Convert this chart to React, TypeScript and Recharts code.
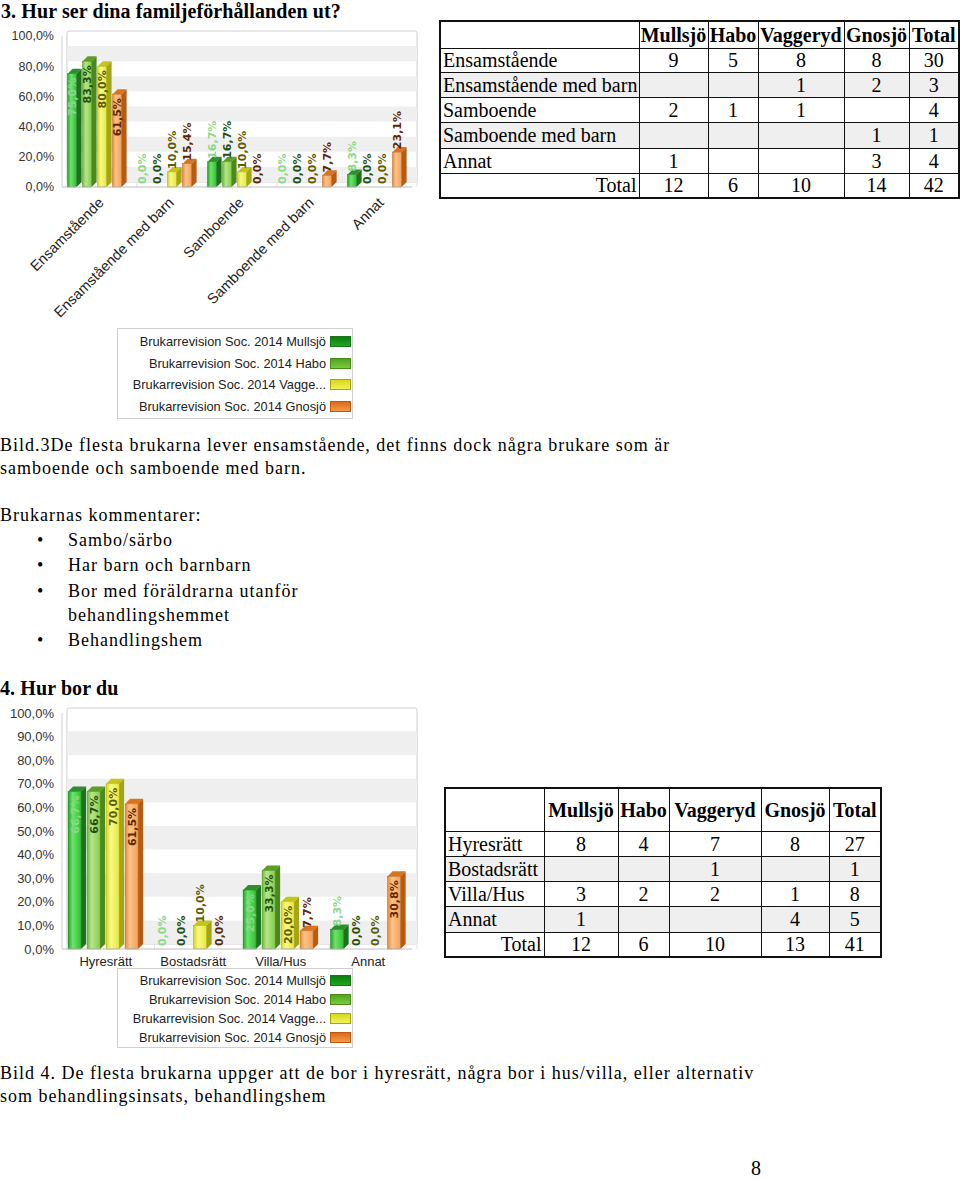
import React from 'react';
import {
  BarChart,
  Bar,
  XAxis,
  YAxis,
  CartesianGrid,
  ReferenceArea,
  LabelList,
  Legend,
} from 'recharts';

const KOMMUNER = ['Mullsjö', 'Habo', 'Vaggeryd', 'Gnosjö'];
const SERIES_NAMES = [
  'Brukarrevision Soc. 2014 Mullsjö',
  'Brukarrevision Soc. 2014 Habo',
  'Brukarrevision Soc. 2014 Vagge...',
  'Brukarrevision Soc. 2014 Gnosjö',
];

// 3. familjeförhållanden, % per kommun
const FAMILY_CATEGORIES = ['Ensamstående', 'Ensamstående med barn', 'Samboende', 'Samboende med barn', 'Annat'];
const FAMILY_MULLSJO = [75.0, 0, 16.7, 0, 8.3];
const FAMILY_HABO = [83.3, 0, 16.7, 0, 0];
const FAMILY_VAGGERYD = [80.0, 10.0, 10.0, 0, 0];
const FAMILY_GNOSJO = [61.5, 15.4, 0, 7.7, 23.1];
const FAMILY_TICKS = [0, 20, 40, 60, 80, 100];

// 3. antal svar
const FAMILY_COUNT_MULLSJO = [9, null, 2, null, 1];
const FAMILY_COUNT_HABO = [5, null, 1, null, null];
const FAMILY_COUNT_VAGGERYD = [8, 1, 1, null, null];
const FAMILY_COUNT_GNOSJO = [8, 2, null, 1, 3];
const FAMILY_COUNT_TOTAL = [30, 3, 4, 1, 4];
const FAMILY_COLUMN_TOTALS = [12, 6, 10, 14, 42];

// 4. boende, % per kommun
const HOUSING_CATEGORIES = ['Hyresrätt', 'Bostadsrätt', 'Villa/Hus', 'Annat'];
const HOUSING_MULLSJO = [66.7, 0, 25.0, 8.3];
const HOUSING_HABO = [66.7, 0, 33.3, 0];
const HOUSING_VAGGERYD = [70.0, 10.0, 20.0, 0];
const HOUSING_GNOSJO = [61.5, 0, 7.7, 30.8];
const HOUSING_TICKS = [0, 10, 20, 30, 40, 50, 60, 70, 80, 90, 100];

// 4. antal svar
const HOUSING_COUNT_MULLSJO = [8, null, 3, 1];
const HOUSING_COUNT_HABO = [4, null, 2, null];
const HOUSING_COUNT_VAGGERYD = [7, 1, 2, null];
const HOUSING_COUNT_GNOSJO = [8, null, 1, 4];
const HOUSING_COUNT_TOTAL = [27, 1, 8, 5];
const HOUSING_COLUMN_TOTALS = [12, 6, 10, 13, 41];

const BAND_STARTS = [0, 20, 40, 60, 80];

const DEPTH = 5;
const SANS = '"Liberation Sans", Arial, sans-serif';
const SERIF = '"Liberation Serif", "Times New Roman", serif';

const SERIES_STYLE = [
  { key: 'mullsjo', front: ['#23a423', '#6de46d', '#2fbf2f'], top: '#2b8f2b', side: '#1b731b', label: '#8ad88a', swatch: ['#0b7d0b', '#1fa61f'] },
  { key: 'habo', front: ['#6fb83a', '#b6e68a', '#86cc4c'], top: '#5c9e24', side: '#4a8a18', label: '#234f0e', swatch: ['#4ea51e', '#7ccc3c'] },
  { key: 'vaggeryd', front: ['#d6d61e', '#f8f88a', '#e8e83a'], top: '#c4c41a', side: '#a5a510', label: '#5c5c06', swatch: ['#d8d818', '#f2f25a'] },
  { key: 'gnosjo', front: ['#e88a3a', '#fbc38a', '#f2a258'], top: '#d8731f', side: '#b85a10', label: '#5e2600', swatch: ['#e0681a', '#f39a48'] },
];

const pct = (v: number) => v.toFixed(1).replace('.', ',') + '%';

function Bar3D(props: any) {
  const { x, y, width, height, prefix, idx } = props;
  if (!height || height < 0.5) return null;
  const s = SERIES_STYLE[idx];
  const fw = width - DEPTH - 1;
  const d = DEPTH;
  return (
    <g>
      <rect x={x} y={y} width={fw} height={height} fill={`url(#${prefix}-front-${idx})`} stroke={s.side} strokeWidth={0.5} />
      <polygon points={`${x},${y} ${x + d},${y - d} ${x + fw + d},${y - d} ${x + fw},${y}`} fill={s.top} />
      <polygon points={`${x + fw},${y} ${x + fw + d},${y - d} ${x + fw + d},${y + height - d} ${x + fw},${y + height}`} fill={s.side} />
    </g>
  );
}

function ValueLabel(props: any) {
  const vb = props.viewBox && props.viewBox.width != null ? props.viewBox : props;
  const { x, y, width, height } = vb;
  const { value, idx } = props;
  const cx = x + (width - DEPTH - 1) / 2;
  const inside = height > 44;
  const ty = inside ? y + 4 : y - 3;
  return (
    <text
      x={cx}
      y={ty}
      transform={`rotate(-90, ${cx}, ${ty})`}
      textAnchor={inside ? 'end' : 'start'}
      dy="0.36em"
      fill={SERIES_STYLE[idx].label}
      fontFamily='"DejaVu Sans", Verdana, sans-serif'
      fontWeight="bold"
      fontSize={11}
    >
      {pct(Number(value))}
    </text>
  );
}

function BackWall(props: any) {
  const { x, y, width, height, fill, stroke } = props;
  return <rect x={x + DEPTH} y={y - DEPTH} width={width} height={height} fill={fill} stroke={stroke} strokeWidth={1} rx={2} />;
}

function RotatedTick(props: any) {
  const { x, y, payload } = props;
  return (
    <text
      transform={`translate(${x + 4}, ${y + 5}) rotate(-45)`}
      textAnchor="end"
      dy="0.35em"
      fontFamily={SANS}
      fontSize={14.5}
      fill="#222"
    >
      {payload.value}
    </text>
  );
}

function LegendBox({ rowHeight, height, padTop }: { rowHeight: number; height: number; padTop: number }) {
  return (
    <div
      style={{
        width: 236,
        height,
        boxSizing: 'border-box',
        border: '1px solid #cfcfcf',
        background: '#fff',
        paddingTop: padTop,
        fontFamily: SANS,
        fontSize: 12.8,
        color: '#222',
      }}
    >
      {SERIES_NAMES.map((name, i) => (
        <div
          key={name}
          style={{ display: 'flex', justifyContent: 'flex-end', alignItems: 'center', height: rowHeight, paddingRight: 1 }}
        >
          <span style={{ whiteSpace: 'nowrap' }}>{name}</span>
          <span
            style={{
              display: 'inline-block',
              flex: 'none',
              width: 21,
              height: 11,
              marginLeft: 4,
              background: `linear-gradient(${SERIES_STYLE[i].swatch[0]}, ${SERIES_STYLE[i].swatch[1]})`,
              border: `1px solid ${SERIES_STYLE[i].side}`,
              boxSizing: 'border-box',
            }}
          />
        </div>
      ))}
    </div>
  );
}

interface ChartProps {
  prefix: string;
  categories: string[];
  series: number[][];
  ticks: number[];
  height: number;
  margin: { top: number; right: number; bottom: number; left: number };
  rotatedTicks: boolean;
  xAxisHeight: number;
  barCategoryGap: string;
  tickFontSize: number;
  legendTop: number;
  legendRowHeight: number;
  legendHeight: number;
  legendPadTop: number;
}

function PercentChart(p: ChartProps) {
  const data = p.categories.map((name, i) => ({
    name,
    mullsjo: p.series[0][i],
    habo: p.series[1][i],
    vaggeryd: p.series[2][i],
    gnosjo: p.series[3][i],
  }));
  const n = p.categories.length;
  return (
    <BarChart width={420} height={p.height} data={data} margin={p.margin} barCategoryGap={p.barCategoryGap} barGap={0}>
      <defs>
        {SERIES_STYLE.map((s, i) => (
          <linearGradient key={s.key} id={`${p.prefix}-front-${i}`} x1="0" y1="0" x2="1" y2="0">
            <stop offset="0%" stopColor={s.front[0]} />
            <stop offset="35%" stopColor={s.front[1]} />
            <stop offset="100%" stopColor={s.front[2]} />
          </linearGradient>
        ))}
      </defs>
      <ReferenceArea y1={0} y2={100} fill="#fff" stroke="#d2d2d2" shape={<BackWall />} />
      {BAND_STARTS.map((b) => (
        <ReferenceArea key={b} y1={b} y2={b + 10} fill="#efefef" stroke="none" shape={<BackWall />} />
      ))}
      <CartesianGrid
        horizontal={false}
        stroke="#e2e2e2"
        verticalCoordinatesGenerator={({ offset }: any) =>
          Array.from({ length: n + 1 }, (_, i) => offset.left + DEPTH + (i * offset.width) / n)
        }
      />
      <XAxis
        dataKey="name"
        height={p.xAxisHeight}
        interval={0}
        tickLine={false}
        axisLine={{ stroke: '#bdbdbd' }}
        tick={p.rotatedTicks ? <RotatedTick /> : { fontFamily: SANS, fontSize: 13, fill: '#222' }}
      />
      <YAxis
        domain={[0, 100]}
        ticks={p.ticks}
        interval={0}
        width={57}
        tickLine={false}
        axisLine={{ stroke: '#cfcfcf' }}
        tickFormatter={pct}
        tick={{ fontFamily: SANS, fontSize: p.tickFontSize, fill: '#333' }}
      />
      {SERIES_STYLE.map((s, i) => (
        <Bar
          key={s.key}
          dataKey={s.key}
          name={SERIES_NAMES[i]}
          isAnimationActive={false}
          shape={(sp: any) => <Bar3D {...sp} prefix={p.prefix} idx={i} />}
        >
          <LabelList dataKey={s.key} content={(lp: any) => <ValueLabel {...lp} idx={i} />} />
        </Bar>
      ))}
      <Legend
        layout="vertical"
        align="center"
        verticalAlign="middle"
        wrapperStyle={{ left: 117, top: p.legendTop, width: 236 }}
        content={() => (
          <LegendBox rowHeight={p.legendRowHeight} height={p.legendHeight} padTop={p.legendPadTop} />
        )}
      />
    </BarChart>
  );
}

interface TableProps {
  left: number;
  top: number;
  colWidths: number[];
  rowHeights: number[];
  fontSize: number;
  rowLabels: string[];
  columns: (number | null)[][];
  columnTotals: number[];
}

function CountTable(t: TableProps) {
  const border = '1.5px solid #111';
  const cell = {
    border,
    padding: '0 2px',
    textAlign: 'center' as const,
    whiteSpace: 'nowrap' as const,
    overflow: 'visible' as const,
  };
  return (
    <table
      style={{
        position: 'absolute',
        left: t.left,
        top: t.top,
        borderCollapse: 'collapse',
        tableLayout: 'fixed',
        width: t.colWidths.reduce((a, b) => a + b, 0),
        fontFamily: SERIF,
        fontSize: t.fontSize,
        border: '2px solid #111',
        lineHeight: 1,
      }}
    >
      <colgroup>
        {t.colWidths.map((w, i) => (
          <col key={i} style={{ width: w }} />
        ))}
      </colgroup>
      <tbody>
        <tr style={{ height: t.rowHeights[0] }}>
          <td style={cell} />
          {[...KOMMUNER, 'Total'].map((k) => (
            <td key={k} style={{ ...cell, fontWeight: 'bold', padding: 0 }}>
              {k}
            </td>
          ))}
        </tr>
        {t.rowLabels.map((label, r) => (
          <tr key={label} style={{ height: t.rowHeights[r + 1], background: r % 2 === 1 ? '#efefef' : '#fff' }}>
            <td style={{ ...cell, textAlign: 'left' }}>{label}</td>
            {t.columns.map((col, c) => (
              <td key={c} style={cell}>
                {col[r] ?? ''}
              </td>
            ))}
          </tr>
        ))}
        <tr style={{ height: t.rowHeights[t.rowHeights.length - 1] }}>
          <td style={{ ...cell, textAlign: 'right' }}>Total</td>
          {t.columnTotals.map((v, c) => (
            <td key={c} style={cell}>
              {v}
            </td>
          ))}
        </tr>
      </tbody>
    </table>
  );
}

function Line({ top, left = 0, bold = false, size = 18, spacing = 1, children }: any) {
  return (
    <div
      style={{
        position: 'absolute',
        top,
        left,
        height: 23,
        lineHeight: '23px',
        fontSize: size,
        letterSpacing: spacing,
        fontWeight: bold ? 'bold' : 'normal',
        whiteSpace: 'nowrap',
      }}
    >
      {children}
    </div>
  );
}

function Bullet({ top, children }: any) {
  return (
    <>
      <Line top={top} left={37}>•</Line>
      <Line top={top} left={68}>{children}</Line>
    </>
  );
}

export default function App() {
  return (
    <div
      style={{
        position: 'absolute',
        left: 0,
        top: 0,
        width: 960,
        height: 1180,
        background: '#fff',
        fontFamily: SERIF,
        color: '#000',
        overflow: 'hidden',
      }}
    >
      <Line top={0} left={1} bold size={20} spacing={0.1}>3. Hur ser dina familjeförhållanden ut?</Line>

      <div style={{ position: 'absolute', left: 0, top: 22 }}>
        <PercentChart
          prefix="fam"
          categories={FAMILY_CATEGORIES}
          series={[FAMILY_MULLSJO, FAMILY_HABO, FAMILY_VAGGERYD, FAMILY_GNOSJO]}
          ticks={FAMILY_TICKS}
          height={400}
          margin={{ top: 14, right: 8, bottom: 95, left: 5 }}
          rotatedTicks
          xAxisHeight={140}
          barCategoryGap="8%"
          tickFontSize={12.5}
          legendTop={306}
          legendRowHeight={21.5}
          legendHeight={91}
          legendPadTop={2}
        />
      </div>

      <CountTable
        left={439}
        top={20}
        colWidths={[199, 69, 50, 86, 65, 50]}
        rowHeights={[27, 24, 25, 25, 26, 25, 25]}
        fontSize={20}
        rowLabels={FAMILY_CATEGORIES}
        columns={[FAMILY_COUNT_MULLSJO, FAMILY_COUNT_HABO, FAMILY_COUNT_VAGGERYD, FAMILY_COUNT_GNOSJO, FAMILY_COUNT_TOTAL]}
        columnTotals={FAMILY_COLUMN_TOTALS}
      />

      <Line top={434}>Bild.3De flesta brukarna lever ensamstående, det finns dock några brukare som är</Line>
      <Line top={457}>samboende och samboende med barn.</Line>
      <Line top={504}>Brukarnas kommentarer:</Line>
      <Bullet top={529}>Sambo/särbo</Bullet>
      <Bullet top={554}>Har barn och barnbarn</Bullet>
      <Bullet top={580}>Bor med föräldrarna utanför</Bullet>
      <Line top={604} left={68}>behandlingshemmet</Line>
      <Bullet top={629}>Behandlingshem</Bullet>
      <Line top={677} bold size={20} spacing={0.1}>4. Hur bor du</Line>

      <div style={{ position: 'absolute', left: 0, top: 703 }}>
        <PercentChart
          prefix="hus"
          categories={HOUSING_CATEGORIES}
          series={[HOUSING_MULLSJO, HOUSING_HABO, HOUSING_VAGGERYD, HOUSING_GNOSJO]}
          ticks={HOUSING_TICKS}
          height={350}
          margin={{ top: 10, right: 8, bottom: 84, left: 5 }}
          rotatedTicks={false}
          xAxisHeight={20}
          barCategoryGap="7%"
          tickFontSize={13}
          legendTop={265}
          legendRowHeight={19}
          legendHeight={80}
          legendPadTop={1.5}
        />
      </div>

      <CountTable
        left={444}
        top={787}
        colWidths={[99, 74, 51, 92, 68, 52]}
        rowHeights={[43, 25, 25, 25, 26, 25]}
        fontSize={20}
        rowLabels={HOUSING_CATEGORIES}
        columns={[HOUSING_COUNT_MULLSJO, HOUSING_COUNT_HABO, HOUSING_COUNT_VAGGERYD, HOUSING_COUNT_GNOSJO, HOUSING_COUNT_TOTAL]}
        columnTotals={HOUSING_COLUMN_TOTALS}
      />

      <Line top={1062}>Bild 4. De flesta brukarna uppger att de bor i hyresrätt, några bor i hus/villa, eller alternativ</Line>
      <Line top={1085}>som behandlingsinsats, behandlingshem</Line>
      <Line top={1157} left={751} size={20} spacing={0}>8</Line>
    </div>
  );
}
